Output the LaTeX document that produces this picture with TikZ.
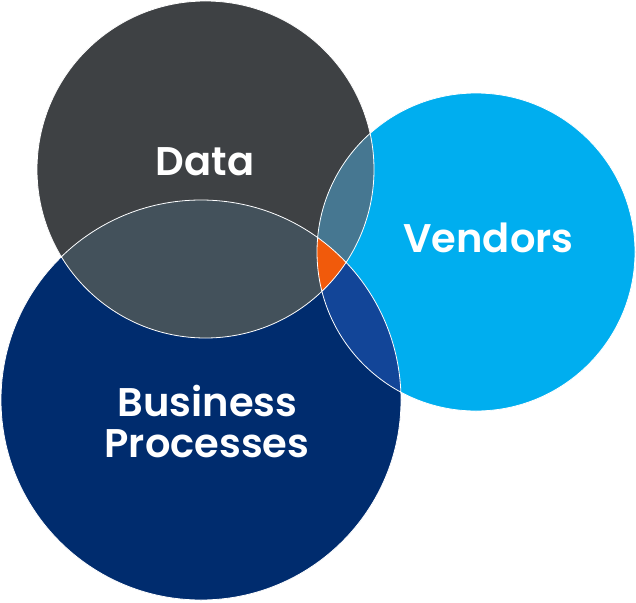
\documentclass[tikz,border=0pt]{standalone}
\usepackage{fontspec}
\usepackage{xcolor}
\usepackage{tikz}
\newfontfamily\vennfont{Poppins SemiBold}
\definecolor{DataGray}{HTML}{3E4144}
\definecolor{ProcNavy}{HTML}{002C6E}
\definecolor{VendSky}{HTML}{00AEEF}
\definecolor{DataProc}{HTML}{43515B}
\definecolor{DataVend}{HTML}{467791}
\definecolor{ProcVend}{HTML}{124598}
\definecolor{AllOrange}{HTML}{F15A0B}
\def\circData{(205.5,169.5) circle (168.5pt)}
\def\circProc{(201,400) circle (200pt)}
\def\circVend{(476,252) circle (159pt)}

\begin{document}
\begin{tikzpicture}[x=1pt,y=-1pt,
  lbl/.style={text=white,font=\vennfont\fontsize{40}{40}\selectfont,align=center,inner sep=0pt}]
\useasboundingbox (0,0) rectangle (636,602);
\fill[DataGray] \circData;
\fill[VendSky] \circVend;
\fill[ProcNavy] \circProc;
% overlaps
\begin{scope}\clip \circData; \fill[DataProc] \circProc; \fill[DataVend] \circVend; \end{scope}
\begin{scope}\clip \circProc; \fill[ProcVend] \circVend; \end{scope}
\begin{scope}\clip \circData; \clip \circProc; \fill[AllOrange] \circVend; \end{scope}
\draw[white,line width=.8pt] \circData \circProc \circVend;
\node[lbl,anchor=base] (data) at (205,175) {Data};
\node[lbl,anchor=base] (vendors) at (488.5,252.5) {Vendors};
\node[lbl,anchor=base] (business) at (207.5,416) {Business};
\node[lbl,anchor=base] (processes) at (207,457) {Processes};
\end{tikzpicture}
\end{document}
